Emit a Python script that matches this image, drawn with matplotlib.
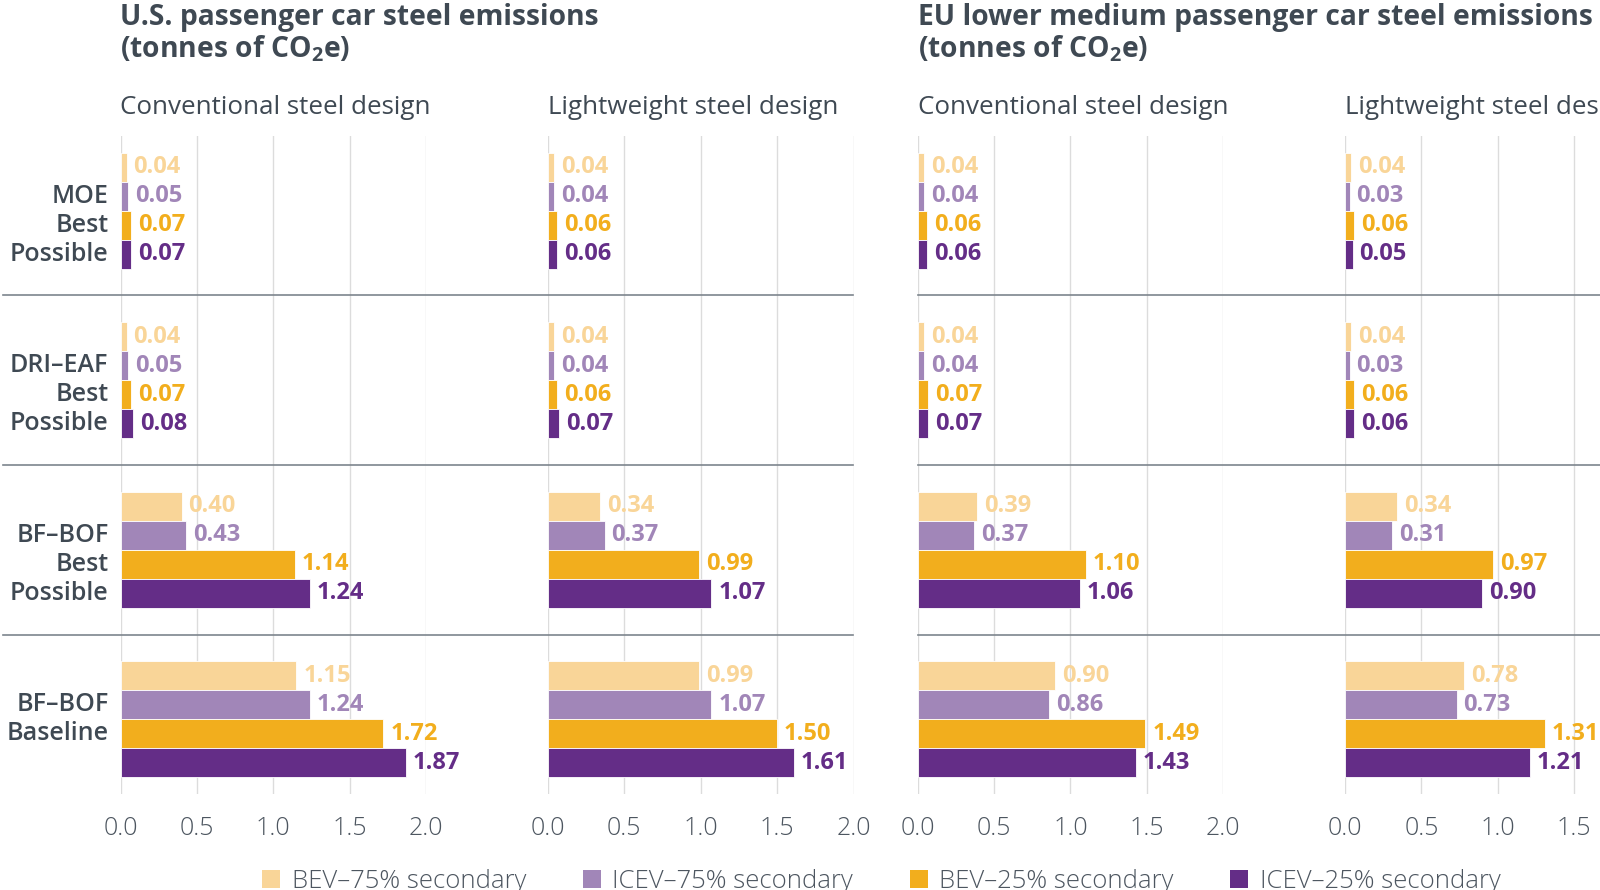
import matplotlib
matplotlib.use("Agg")
import matplotlib.pyplot as plt
import matplotlib.transforms as mtransforms
from matplotlib.lines import Line2D
from matplotlib.patches import Patch
import numpy as np

plt.rcParams["font.family"] = ["Open Sans", "DejaVu Sans"]
plt.rcParams["mathtext.fontset"] = "custom"
plt.rcParams["mathtext.rm"] = "Open Sans"
plt.rcParams["mathtext.bf"] = "Open Sans:bold"

# data
series = ["BEV–75% secondary", "ICEV–75% secondary", "BEV–25% secondary", "ICEV–25% secondary"]
colors = ["#F9D598", "#A186B8", "#F2AE1D", "#642D87"]
categories = ["MOE\nBest\nPossible", "DRI–EAF\nBest\nPossible", "BF–BOF\nBest\nPossible", "BF–BOF\nBaseline"]
xticks = [0.0, 0.5, 1.0, 1.5, 2.0]

# rows = series, columns = categories
us_conventional = [
    [0.04, 0.04, 0.40, 1.15],
    [0.05, 0.05, 0.43, 1.24],
    [0.07, 0.07, 1.14, 1.72],
    [0.07, 0.08, 1.24, 1.87],
]
us_lightweight = [
    [0.04, 0.04, 0.34, 0.99],
    [0.04, 0.04, 0.37, 1.07],
    [0.06, 0.06, 0.99, 1.50],
    [0.06, 0.07, 1.07, 1.61],
]
eu_conventional = [
    [0.04, 0.04, 0.39, 0.90],
    [0.04, 0.04, 0.37, 0.86],
    [0.06, 0.07, 1.10, 1.49],
    [0.06, 0.07, 1.06, 1.43],
]
eu_lightweight = [
    [0.04, 0.04, 0.34, 0.78],
    [0.03, 0.03, 0.31, 0.73],
    [0.06, 0.06, 0.97, 1.31],
    [0.05, 0.06, 0.90, 1.21],
]

titles = [["U.S. passenger car steel emissions", "(tonnes of CO$_\\mathbf{2}$e)"],
          ["EU lower medium passenger car steel emissions", "(tonnes of CO$_\\mathbf{2}$e)"]]
subtitles = ["Conventional steel design", "Lightweight steel design",
             "Conventional steel design", "Lightweight steel design"]
panels = [us_conventional, us_lightweight, eu_conventional, eu_lightweight]

TEXT = "#3f4953"
TICK = "#4d5660"
W, H = 1600, 890
fig = plt.figure(figsize=(16, 8.9), dpi=100)

lefts = [120.5, 548, 917.7, 1345]
width = 305.5
bottom, top = 794, 136
bar_h = 0.171
offsets = (np.arange(4) - 1.5) * bar_h
y = np.arange(len(categories))

axes = []
for left, data, sub in zip(lefts, panels, subtitles):
    ax = fig.add_axes([left / W, 1 - bottom / H, width / W, (bottom - top) / H])
    for k in range(4):
        bars = ax.barh(y + offsets[k], data[k], height=bar_h, color=colors[k],
                       edgecolor="white", linewidth=0.6, zorder=3)
        for rect, v in zip(bars, data[k]):
            ax.annotate(f"{v:.2f}", (v, rect.get_y() + rect.get_height() / 2),
                        xytext=(5, 0), textcoords="offset points", va="center", ha="left",
                        color=colors[k], fontsize=17, fontweight="bold", annotation_clip=False)
    ax.set_xlim(0, 2.0)
    ax.set_ylim(3.44, -0.44)
    ax.set_xticks(xticks)
    ax.set_xticklabels([f"{t:.1f}" for t in xticks], fontsize=18, color=TICK, fontweight="light")
    ax.set_yticks([])
    ax.tick_params(axis="x", length=0, pad=16)
    ax.grid(axis="x", color="#dcdcdc", linewidth=1, zorder=0)
    for s in ax.spines.values():
        s.set_visible(False)
    fig.text(left / W, 1 - 114 / H, sub, fontsize=18.7, color=TEXT, va="baseline", ha="left")
    axes.append(ax)

# titles, one text per line
for lines, left in zip(titles, [lefts[0], lefts[2]]):
    for line, base in zip(lines, [25.5, 57]):
        fig.text(left / W, 1 - base / H, line, fontsize=20.3, fontweight="bold", color=TEXT,
                 va="baseline", ha="left")

# category labels, one line per bar row starting at the second bar
lab_tr = mtransforms.blended_transform_factory(fig.transFigure, axes[0].transData)
for i, lab in enumerate(categories):
    for j, line in enumerate(lab.split("\n")):
        axes[0].text(108.5 / W, i + offsets[j + 1], line, transform=lab_tr, ha="right",
                     va="center", fontsize=18, fontweight="semibold", color=TEXT)

# group separators
for ax_, x0, x1 in [(axes[0], 3 / W, 853.3 / W), (axes[2], 917.7 / W, 1.0)]:
    tr = mtransforms.blended_transform_factory(fig.transFigure, ax_.transData)
    for yy in y[:-1] + 0.5:
        fig.add_artist(Line2D([x0, x1], [yy, yy], transform=tr, color="#7d858d", linewidth=1.2))

handles = [Patch(facecolor=c, edgecolor="none") for c in colors]
fig.legend(handles, series, loc="center", bbox_to_anchor=(0.551, 1 - 881 / H), ncol=4,
           frameon=False, handlelength=0.7, handleheight=0.7,
           handletextpad=0.45, columnspacing=2.2, labelcolor=TICK,
           prop={"weight": "light", "size": 18.5})

fig.savefig("out.png", dpi=100)
